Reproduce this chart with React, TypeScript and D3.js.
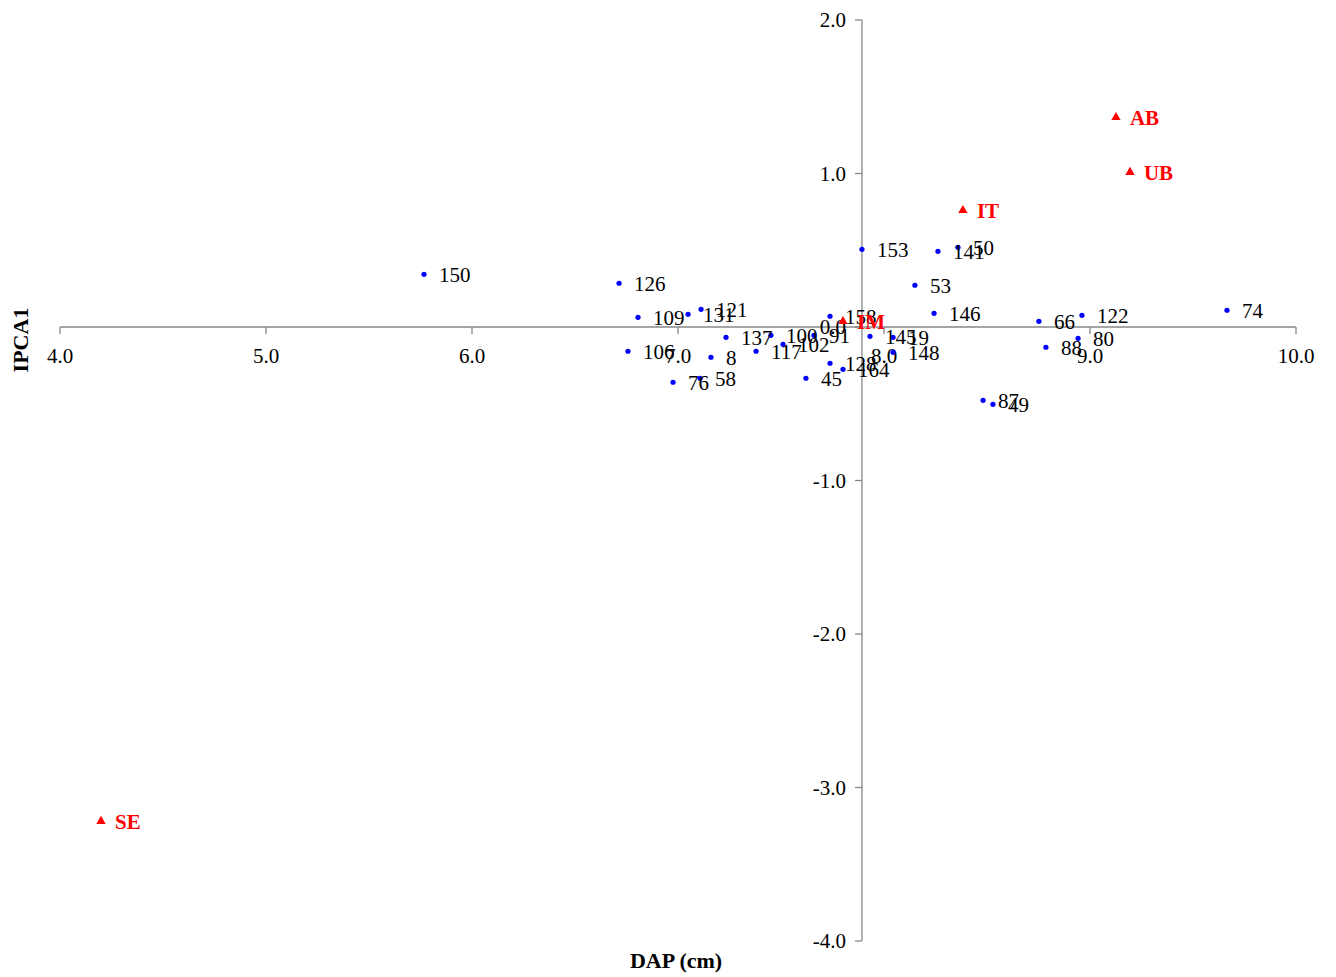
import React from "react";
import * as d3 from "d3";

// Genotype scores: mean DAP (cm) vs first interaction principal component
const genotypeIds = [
  "150", "126", "109", "131", "121", "106", "76", "58", "8", "137",
  "117", "100", "102", "91", "158", "45", "128", "164", "145", "19",
  "148", "153", "141", "50", "53", "146", "66", "122", "74", "80",
  "88", "87", "49",
];
const genotypeDap = [
  5.767, 6.714, 6.806, 7.049, 7.112, 6.757, 6.976, 7.107, 7.16, 7.233,
  7.379, 7.451, 7.51, 7.66, 7.738, 7.621, 7.738, 7.801, 7.932, 8.044,
  8.044, 7.893, 8.262, 8.359, 8.15, 8.243, 8.752, 8.961, 9.665, 8.942,
  8.786, 8.481, 8.529,
];
const genotypeIpca1 = [
  0.343, 0.285, 0.063, 0.083, 0.115, -0.158, -0.36, -0.334, -0.197, -0.067,
  -0.158, -0.054, -0.113, -0.054, 0.07, -0.334, -0.236, -0.276, -0.061, -0.067,
  -0.165, 0.506, 0.493, 0.519, 0.272, 0.089, 0.037, 0.076, 0.109, -0.074,
  -0.132, -0.478, -0.504,
];

// Environment scores
const envIds = ["AB", "UB", "IT", "IM", "SE"];
const envDap = [9.126, 9.194, 8.383, 7.801, 4.199];
const envIpca1 = [1.366, 1.008, 0.76, 0.037, -3.22];

// Axis ticks and crossing point (grand mean of DAP)
const xTicks = [4, 5, 6, 7, 8, 9, 10];
const yTicks = [2, 1, 0, -1, -2, -3, -4];
const grandMeanDap = 7.893;

const W = 1336;
const H = 977;
const FONT = "'Liberation Serif', 'Times New Roman', serif";
const AXIS_COLOR = "#878787";
const fmt = (v: number) => v.toFixed(1);

export default function App() {
  const x = d3.scaleLinear().domain([4, 10]).range([60, 1296]);
  const y = d3.scaleLinear().domain([-4, 2]).range([941, 20]);
  const x0 = x(grandMeanDap);
  const y0 = y(0);
  const tri = d3.symbol().type(d3.symbolTriangle).size(38)() as string;

  return (
    <svg
      width={W}
      height={H}
      style={{ position: "absolute", left: 0, top: 0, background: "#fff" }}
      fontFamily={FONT}
    >
      {/* horizontal axis at IPCA1 = 0 */}
      <line x1={x(4)} x2={x(10)} y1={y0} y2={y0} stroke={AXIS_COLOR} strokeWidth={1.3} />
      {xTicks.map((t) => (
        <g key={"xt" + t}>
          <line x1={x(t)} x2={x(t)} y1={y0} y2={y0 + 7} stroke={AXIS_COLOR} strokeWidth={1.3} />
          <text x={x(t)} y={y0 + 36} textAnchor="middle" fontSize={21} fill="#000">
            {fmt(t)}
          </text>
        </g>
      ))}

      {/* vertical axis at the grand mean */}
      <line x1={x0} x2={x0} y1={y(2)} y2={y(-4)} stroke={AXIS_COLOR} strokeWidth={1.3} />
      {yTicks.map((t) => (
        <g key={"yt" + t}>
          <line x1={x0 - 7} x2={x0} y1={y(t)} y2={y(t)} stroke={AXIS_COLOR} strokeWidth={1.3} />
          <text x={x0 - 16} y={y(t) + 7} textAnchor="end" fontSize={21} fill="#000">
            {fmt(t)}
          </text>
        </g>
      ))}

      {/* genotype points */}
      {genotypeIds.map((id, i) => (
        <circle key={"gp" + id} cx={x(genotypeDap[i])} cy={y(genotypeIpca1[i])} r={2.6} fill="#0000ff" />
      ))}
      {/* environment points */}
      {envIds.map((id, i) => (
        <path
          key={"ep" + id}
          d={tri}
          transform={`translate(${x(envDap[i])},${y(envIpca1[i])})`}
          fill="#ff0000"
        />
      ))}

      {/* genotype labels */}
      {genotypeIds.map((id, i) => (
        <text
          key={"gl" + id}
          x={x(genotypeDap[i]) + 15}
          y={y(genotypeIpca1[i]) + 8}
          fontSize={21}
          fill="#000"
        >
          {id}
        </text>
      ))}
      {/* environment labels */}
      {envIds.map((id, i) => (
        <text
          key={"el" + id}
          x={x(envDap[i]) + 14}
          y={y(envIpca1[i]) + 8}
          fontSize={21}
          fontWeight="bold"
          fill="#ff0000"
        >
          {id}
        </text>
      ))}

      {/* axis titles */}
      <text x={676} y={968} textAnchor="middle" fontSize={22} fontWeight="bold" fill="#000">
        DAP (cm)
      </text>
      <text
        transform={`translate(28, 340) rotate(-90)`}
        textAnchor="middle"
        fontSize={22}
        fontWeight="bold"
        fill="#000"
      >
        IPCA1
      </text>
    </svg>
  );
}
